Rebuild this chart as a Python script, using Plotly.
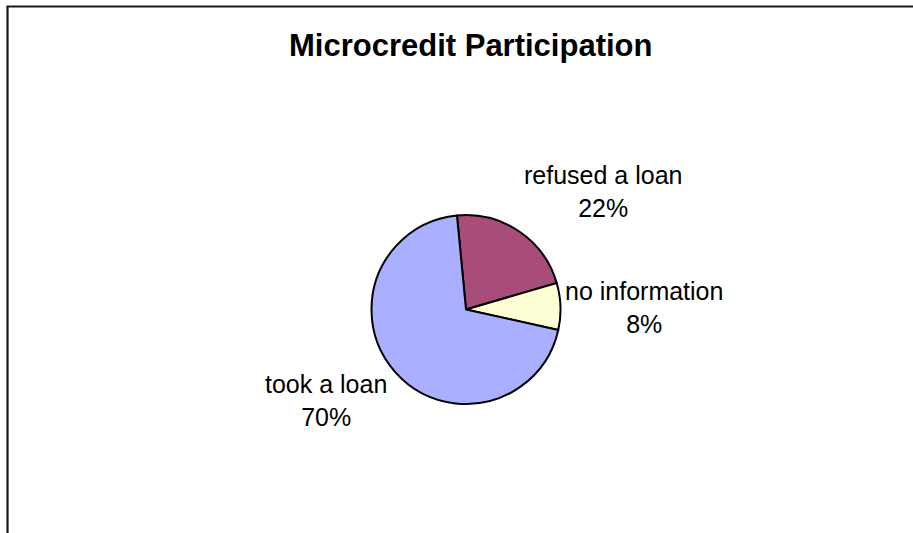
import plotly.graph_objects as go

# Survey outcome shares
categories = ["refused a loan", "no information", "took a loan"]
shares = [22, 8, 70]
colors = ["#A84C7A", "#FFFFD6", "#AAAFFF"]

W, H = 913, 533
FONT = "Liberation Sans, Arial, Helvetica, sans-serif"

# pie placement in pixels
cx, cy, r = 466, 309.5, 94.5

def px(x):
    return x / W

def py(y):
    return 1 - y / H

fig = go.Figure(
    go.Pie(
        labels=categories,
        values=shares,
        sort=False,
        direction="clockwise",
        rotation=-5.5,
        marker=dict(colors=colors, line=dict(color="#000000", width=2)),
        textinfo="none",
        hoverinfo="label+percent",
        showlegend=False,
        domain=dict(x=[px(cx - r), px(cx + r)], y=[py(cy + r), py(cy - r)]),
    )
)

# outside data labels (label + percent)
total = sum(shares)
label_pos = {
    "refused a loan": (603, 191.5),
    "no information": (643.5, 307),
    "took a loan": (325.5, 400.5),
}
annotations = []
for name, v in zip(categories, shares):
    x, y = label_pos[name]
    annotations.append(
        dict(
            text=f"{name}<br>{round(v / total * 100)}%",
            x=px(x), y=py(y), xref="paper", yref="paper",
            xanchor="center", yanchor="middle",
            showarrow=False, align="center",
            font=dict(family=FONT, size=25, color="#000000"),
        )
    )

annotations.append(
    dict(
        text="<b>Microcredit Participation</b>",
        x=px(470), y=py(46), xref="paper", yref="paper",
        xanchor="center", yanchor="middle", showarrow=False,
        font=dict(family=FONT, size=31, color="#000000"),
    )
)

fig.update_layout(
    width=W, height=H,
    margin=dict(l=0, r=0, t=0, b=0),
    paper_bgcolor="#FFFFFF",
    plot_bgcolor="#FFFFFF",
    annotations=annotations,
    shapes=[
        dict(
            type="rect", xref="paper", yref="paper",
            x0=px(7.5), x1=px(W + 200), y0=py(H + 200), y1=py(6.5),
            line=dict(color="#1A1A1A", width=2.2), fillcolor="rgba(0,0,0,0)",
        )
    ],
)

fig.write_html("out.html")
